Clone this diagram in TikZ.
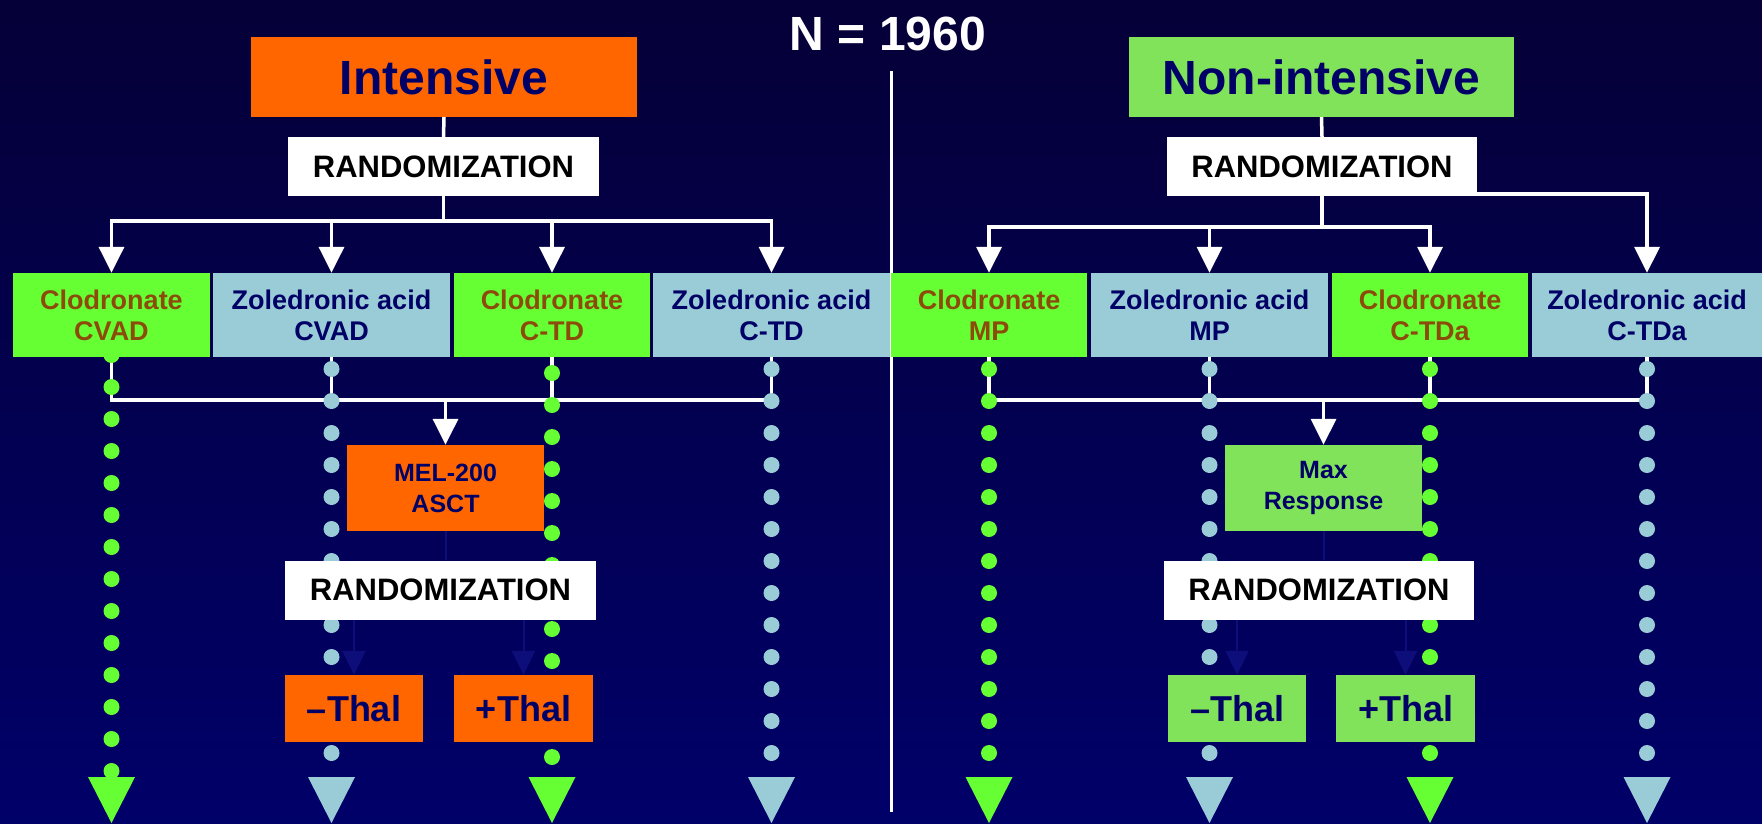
\documentclass[tikz,border=0pt]{standalone}
\usepackage{fontspec}
\setmainfont{Liberation Sans}
\usetikzlibrary{arrows.meta,positioning,calc}

\definecolor{bgtop}{RGB}{5,0,55}
\definecolor{bgbot}{RGB}{0,0,105}
\definecolor{navytext}{RGB}{0,0,102}
\definecolor{intorange}{RGB}{255,102,0}
\definecolor{nonigreen}{RGB}{128,227,90}
\definecolor{clodgreen}{RGB}{102,255,51}
\definecolor{clodbrown}{RGB}{140,75,10}
\definecolor{zolblue}{RGB}{153,204,214}
\definecolor{darkwire}{RGB}{14,14,122}

\pgfdeclarelayer{back}
\pgfdeclarelayer{wires}
\pgfdeclarelayer{dots}
\pgfsetlayers{back,wires,dots,main}

\tikzset{
  box/.style={rectangle, inner sep=0pt, align=center},
  headbox/.style={box, text=navytext, font=\fontsize{48}{52}\selectfont\bfseries},
  randbox/.style={box, fill=white, text=black, minimum width=311pt, minimum height=59pt, font=\fontsize{31}{34}\selectfont\bfseries},
  clodbox/.style={box, fill=clodgreen, text=clodbrown, minimum height=84pt, font=\fontsize{27}{31}\selectfont\bfseries},
  zolbox/.style={box, fill=zolblue, text=navytext, minimum height=84pt, font=\fontsize{27}{31}\selectfont\bfseries},
  stepbox/.style={box, text=navytext, minimum width=197pt, minimum height=86pt, font=\fontsize{25}{31}\selectfont\bfseries},
  thalbox/.style={box, text=navytext, minimum width=138pt, minimum height=67pt, font=\fontsize{36}{40}\selectfont\bfseries},
  wire/.style={white, line width=3.5pt},
  arr/.style={wire, -{Triangle[width=25pt,length=26pt]}},
  dwire/.style={darkwire, line width=2pt},
  darr/.style={dwire, -{Triangle[width=23pt,length=24pt]}}
}

\begin{document}
\begin{tikzpicture}[x=1pt, y=-1pt]
\useasboundingbox (0,0) rectangle (1762,823);
\begin{pgfonlayer}{back}
  \fill[top color=bgtop, bottom color=bgbot] (0,0) rectangle (1762,823);
\end{pgfonlayer}

% title and divider
\node[font=\fontsize{48}{52}\selectfont\bfseries, text=white] (ntotal) at (888,34) {N = 1960};
\draw[white, line width=3pt] (891.5,71) -- (891.5,812);

% intensive arm
\node[headbox, fill=intorange, minimum width=386pt, minimum height=80pt] (intens) at (444,77) {Intensive};
\node[randbox] (rand1) at (443.5,166.5) {RANDOMIZATION};
\node[clodbox, minimum width=197pt] (lc1) at (111.5,315) {Clodronate\\CVAD};
\node[zolbox, minimum width=237pt] (lc2) at (331.5,315) {Zoledronic acid\\CVAD};
\node[clodbox, minimum width=196pt] (lc3) at (552,315) {Clodronate\\C-TD};
\node[zolbox, minimum width=237pt] (lc4) at (771.5,315) {Zoledronic acid\\C-TD};
\node[stepbox, fill=intorange] (mel) at (445.5,488) {MEL-200\\ASCT};
\node[randbox] (rand2) at (440.5,590) {RANDOMIZATION};
\node[thalbox, fill=intorange] (lminus) at (354,708.5) {--Thal};
\node[thalbox, fill=intorange, minimum width=139pt] (lplus) at (523.5,708.5) {+Thal};

% non-intensive arm
\node[headbox, fill=nonigreen, minimum width=385pt, minimum height=80pt] (nonint) at (1321.5,77) {Non-intensive};
\node[randbox, minimum width=310pt] (rand3) at (1322,166.5) {RANDOMIZATION};
\node[clodbox, minimum width=196pt] (rc1) at (989,315) {Clodronate\\MP};
\node[zolbox, minimum width=237pt] (rc2) at (1209.5,315) {Zoledronic acid\\MP};
\node[clodbox, minimum width=196pt] (rc3) at (1430,315) {Clodronate\\C-TDa};
\node[zolbox, minimum width=230pt] (rc4) at (1647,315) {Zoledronic acid\\C-TDa};
\node[stepbox, fill=nonigreen] (maxr) at (1323.5,488) {Max\\Response};
\node[randbox, minimum width=310pt] (rand4) at (1319,590) {RANDOMIZATION};
\node[thalbox, fill=nonigreen] (rminus) at (1237,708.5) {--Thal};
\node[thalbox, fill=nonigreen, minimum width=139pt] (rplus) at (1405.5,708.5) {+Thal};

\begin{pgfonlayer}{wires}
  % left tree
  \draw[wire] (intens.south) -- (rand1.north);
  \draw[wire] (rand1.south) -- ++(0,25) coordinate (lsplit);
  \foreach \b in {lc1,lc2,lc3,lc4}
    \draw[arr] (lsplit) -| (\b.north);
  \draw[wire] (lc1.south) -- ++(0,43) coordinate (lbar) -| (lc4.south);
  \draw[wire] (lc2.south) -- (lc2.south |- lbar);
  \draw[wire] (lc3.south) -- (lc3.south |- lbar);
  \draw[arr] (mel.north |- lbar) -- (mel.north);
  \draw[dwire] (mel.south) -- (mel.south |- rand2.north);
  \draw[darr] (rand2.south -| lminus.north) -- (lminus.north);
  \draw[darr] (rand2.south -| lplus.north) -- (lplus.north);

  % right tree
  \draw[wire] (nonint.south) -- (rand3.north);
  \draw[wire] (rand3.south) -- ++(0,31) coordinate (rsplit);
  \foreach \b in {rc1,rc2,rc3}
    \draw[arr] (rsplit) -| (\b.north);
  \draw[arr] ([yshift=2pt]rand3.south east) -| (rc4.north);
  \draw[wire] (rc1.south) -- ++(0,43) coordinate (rbar) -| (rc4.south);
  \draw[wire] (rc2.south) -- (rc2.south |- rbar);
  \draw[wire] (rc3.south) -- (rc3.south |- rbar);
  \draw[arr] (maxr.north |- rbar) -- (maxr.north);
  \draw[dwire] (maxr.south) -- (maxr.south |- rand4.north);
  \draw[darr] (rand4.south -| rminus.north) -- (rminus.north);
  \draw[darr] (rand4.south -| rplus.north) -- (rplus.north);
\end{pgfonlayer}

% dotted follow-up lines and end triangles
\begin{pgfonlayer}{dots}
  \foreach \c/\s/\n/\col in {111.5/355/13/clodgreen, 331.5/369/12/zolblue,
      552/373/12/clodgreen, 771.5/369/12/zolblue, 989/369/12/clodgreen,
      1209.5/369/12/zolblue, 1430/369/12/clodgreen, 1647/369/12/zolblue}
  {
    \foreach \k in {0,...,\n}
      \fill[\col] (\c,{\s+32*\k}) circle (8pt);
    \fill[\col] (\c-23.5,777) -- (\c+23.5,777) -- (\c,823) -- cycle;
  }
\end{pgfonlayer}
\end{tikzpicture}
\end{document}
